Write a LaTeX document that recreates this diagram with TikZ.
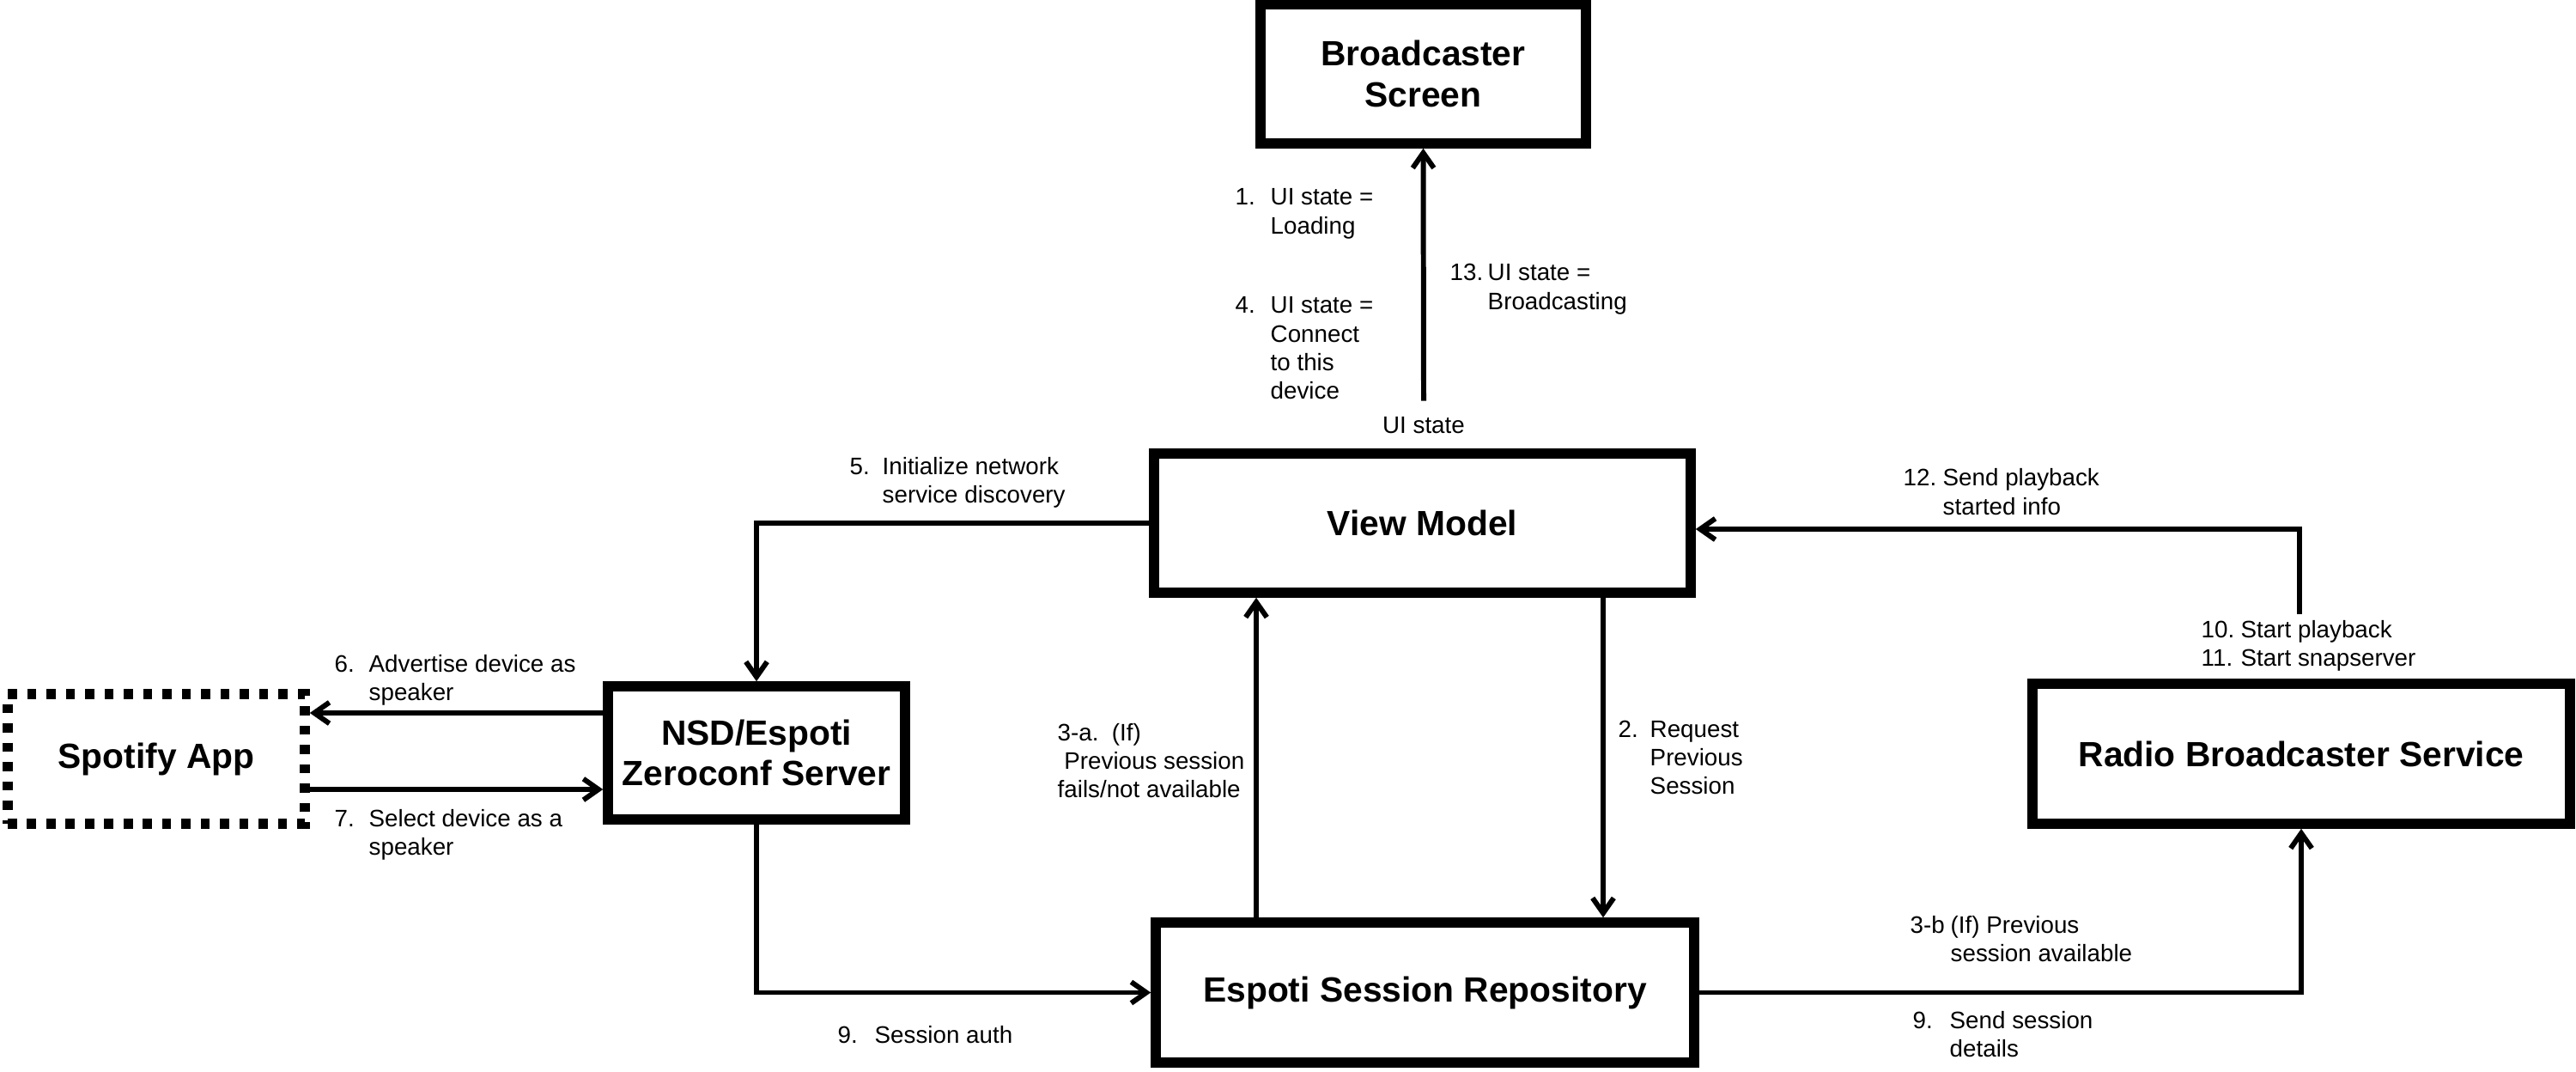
\documentclass[tikz,border=0pt]{standalone}
\usepackage{fontspec}
\setmainfont{Liberation Sans}
\usepackage{tikz}
\usetikzlibrary{positioning,arrows.meta}

\newcommand{\steplbl}[3][0.40cm]{\begin{tabular}[t]{@{}p{#1}@{}l@{}}#2 & #3\end{tabular}}

\begin{document}
\begin{tikzpicture}[
    box/.style={draw, line width=3.3pt, inner sep=0pt, align=center, font=\fontsize{11.6}{13.6}\selectfont\bfseries},
    arr/.style={-{Straight Barb[length=5pt,width=7pt]}, line width=1.7pt},
    lbl/.style={inner sep=0pt, anchor=base west, font=\fontsize{7.9}{9.4}\selectfont}
]
\useasboundingbox (0,0) rectangle (30,-12.48);

% components
\node[box, minimum width=3.79cm, minimum height=1.62cm] (screen) at (16.575,-0.86) {Broadcaster\\Screen};
\node[box, minimum width=6.25cm, minimum height=1.62cm] (vm) at (16.565,-6.09) {View Model};
\node[box, minimum width=3.46cm, minimum height=1.55cm] (nsd) at (8.81,-8.765) {NSD/Espoti\\Zeroconf Server};
\node[box, dash pattern=on 3pt off 3.4pt, minimum width=3.46cm, minimum height=1.51cm] (spotify) at (1.82,-8.835) {Spotify App};
\node[box, minimum width=6.26cm, minimum height=1.63cm] (radio) at (26.80,-8.775) {Radio Broadcaster Service};
\node[box, minimum width=6.27cm, minimum height=1.63cm] (repo) at (16.595,-11.555) {Espoti Session Repository};

% ui states
\node[inner sep=0pt, font=\fontsize{7.9}{9.4}\selectfont] (uistate) at (16.58,-4.95) {UI state};
\node[lbl] (l1) at (14.38,-2.39) {\steplbl[0.41cm]{1.}{UI state =\\ & Loading}};
\node[lbl] (l4) at (14.38,-3.65) {\steplbl[0.41cm]{4.}{UI state =\\ & Connect\\ & to this\\ & device}};
\node[lbl] (l13) at (16.88,-3.27) {\steplbl[0.44cm]{13.}{UI state =\\ & Broadcasting}};

% step labels
\node[lbl] (l5) at (9.89,-5.52) {\steplbl[0.38cm]{5.}{Initialize network\\ & service discovery}};
\node[lbl] (l6) at (3.89,-7.82) {\steplbl{6.}{Advertise device as\\ & speaker}};
\node[lbl] (l7) at (3.89,-9.62) {\steplbl{7.}{Select device as a\\ & speaker}};
\node[lbl] (l9a) at (9.75,-12.14) {\steplbl[0.43cm]{9.}{Session auth}};
\node[lbl] (l3a) at (12.31,-8.62) {\begin{tabular}[t]{@{}l@{}}3-a.\ \ (If)\\\ Previous session\\fails/not available\end{tabular}};
\node[lbl] (l2) at (18.84,-8.58) {\steplbl[0.37cm]{2.}{Request\\ & Previous\\ & Session}};
\node[lbl] (l3b) at (22.24,-10.86) {\steplbl[0.47cm]{3-b}{(If) Previous\\ & session available}};
\node[lbl] (l9b) at (22.27,-11.97) {\steplbl[0.43cm]{9.}{Send session\\ & details}};
\node[lbl] (l12) at (22.16,-5.66) {\steplbl[0.46cm]{12.}{Send playback\\ & started info}};
\node[lbl] (l10) at (25.63,-7.42) {\steplbl[0.46cm]{10.}{Start playback\\ 11. & Start snapserver}};

% connectors
\coordinate (adv) at ([yshift=4.65mm]nsd.west);
\coordinate (sel) at ([yshift=-4.25mm]nsd.west);
\coordinate (fail) at (14.63,-10);
\coordinate (req) at (18.67,-8);
\coordinate (play) at (26.78,-7.15);
\coordinate (back) at (0,-6.16);

\draw[arr] ([yshift=1.8mm]uistate.north) -- (screen.south);
\draw[arr] (vm.west) -| (nsd.north);
\draw[arr] (adv) -- (adv -| spotify.east);
\draw[arr] (sel -| spotify.east) -- (sel);
\draw[arr] (nsd.south) |- (repo.west);
\draw[arr] (repo.north -| fail) -- (vm.south -| fail);
\draw[arr] (vm.south -| req) -- (repo.north -| req);
\draw[arr] (repo.east) -| (radio.south);
\draw[arr] (play) |- (vm.east |- back);
\end{tikzpicture}
\end{document}
